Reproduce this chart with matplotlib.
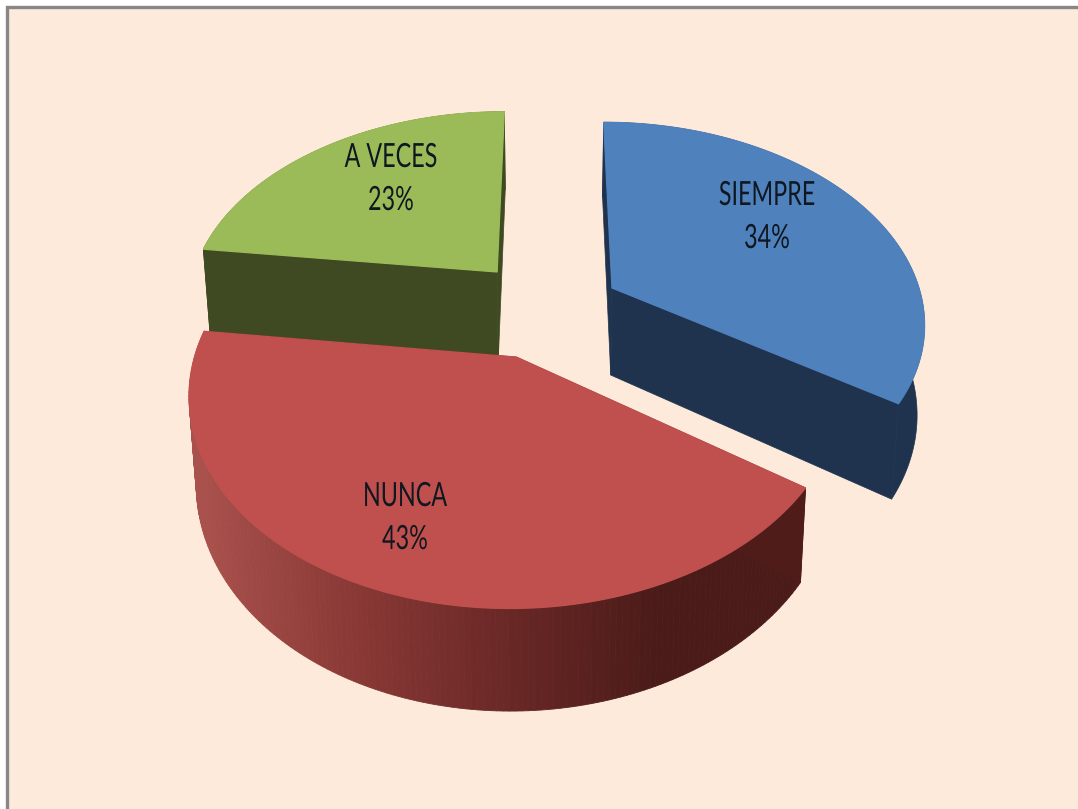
import numpy as np
import matplotlib
matplotlib.use("Agg")
import matplotlib.pyplot as plt
from matplotlib.patches import Polygon, Rectangle
from matplotlib.colors import LinearSegmentedColormap
from matplotlib.patheffects import AbstractPathEffect
from matplotlib.transforms import Affine2D

labels = ["SIEMPRE", "NUNCA", "A VECES"]
shares = [34, 43, 23]

top_colors = ["#4F81BD", "#C0504D", "#9BBB59"]
wall_colors = ["#1F334E", "#4F1C1A", "#3F4A22"]
offsets = [(0.201, 0.0655), (-0.108, -0.275), (-0.18, 0.15)]
radii = [(1.012, 1.0), (1.004, 0.98), (1.012, 0.99)]
depths = [88, 82, 92]
start_shift = [0, 2, 0]
end_shift = [1, 0, 0]
label_xy = [(767, 196), (405, 497), (391, 158)]
line_gap = 43

CX, CY, A, B, K, SHRINK = 551, 300.7, 306.5, 196, 0.16, 0.98

plt.rcParams["font.family"] = ["Lato", "DejaVu Sans"]
fig = plt.figure(figsize=(10.78, 8.09), dpi=100, facecolor="white")
ax = fig.add_axes([0, 0, 1, 1])
ax.set_xlim(0, 1078)
ax.set_ylim(809, 0)
ax.axis("off")
ax.add_patch(Rectangle((6.5, 6.5), 1090, 820, facecolor="#FDEADA", edgecolor="#878787", lw=2.4))


class Squeeze(AbstractPathEffect):
    def __init__(self, x0, sx):
        super().__init__()
        self.x0, self.sx = x0, sx

    def draw_path(self, renderer, gc, tpath, affine, rgbFace=None):
        t = Affine2D().translate(-self.x0, 0).scale(self.sx, 1).translate(self.x0, 0)
        renderer.draw_path(gc, tpath, affine + t, rgbFace)


def project(x, y):
    d = 1 + K * y
    return CX + A * x / d, CY - B * y / d


def project_low(x, y, depth):
    px, py = project(x, y)
    return CX + (px - CX) * SHRINK, py + depth / (1 + K * y)


red_ramp = LinearSegmentedColormap.from_list("r", ["#A9514D", "#8A3936", "#6A2826", "#4A1B19"])
edges = np.cumsum([0] + shares) / sum(shares) * 2 * np.pi


def arc(i, n=160):
    t = np.linspace(edges[i] + np.radians(start_shift[i]), edges[i + 1] + np.radians(end_shift[i]), n)
    return offsets[i][0] + radii[i][0] * np.sin(t), offsets[i][1] + radii[i][1] * np.cos(t)


def draw_slice(i):
    x, y = arc(i)
    ox, oy = offsets[i]
    px, py = project(x, y)
    lx, ly = project_low(x, y, depths[i])
    if i == 1:
        for j in range(len(x) - 1):
            f = np.clip((((px[j] + px[j + 1]) / 2) - 195) / (660 - 195), 0, 1)
            c = red_ramp(f)
            ax.add_patch(Polygon([(px[j], py[j]), (px[j + 1], py[j + 1]), (lx[j + 1], ly[j + 1]), (lx[j], ly[j])],
                                 facecolor=c, edgecolor=c, lw=0.6))
    else:
        ax.add_patch(Polygon(list(zip(px, py)) + list(zip(lx[::-1], ly[::-1])),
                             facecolor=wall_colors[i], edgecolor=wall_colors[i], lw=0.5))
    ax0, ay0 = project(ox, oy)
    bx0, by0 = project_low(ox, oy, depths[i])
    for k in (0, -1):
        ax.add_patch(Polygon([(ax0, ay0), (px[k], py[k]), (lx[k], ly[k]), (bx0, by0)],
                             facecolor=wall_colors[i], edgecolor=wall_colors[i], lw=0.5))
    ax.add_patch(Polygon([(ax0, ay0)] + list(zip(px, py)), facecolor=top_colors[i],
                         edgecolor=top_colors[i], lw=0.9))


for i in (2, 0, 1):
    draw_slice(i)

for name, val, (tx, ty) in zip(labels, shares, label_xy):
    for s, yy in ((name, ty), (f"{val}%", ty + line_gap)):
        x0 = ax.transData.transform((tx, yy))[0]
        ax.text(tx, yy, s, ha="center", va="center", fontsize=24, color="#0F1720",
                path_effects=[Squeeze(x0, 0.7)])

fig.savefig("out.png", dpi=100, facecolor=fig.get_facecolor())
